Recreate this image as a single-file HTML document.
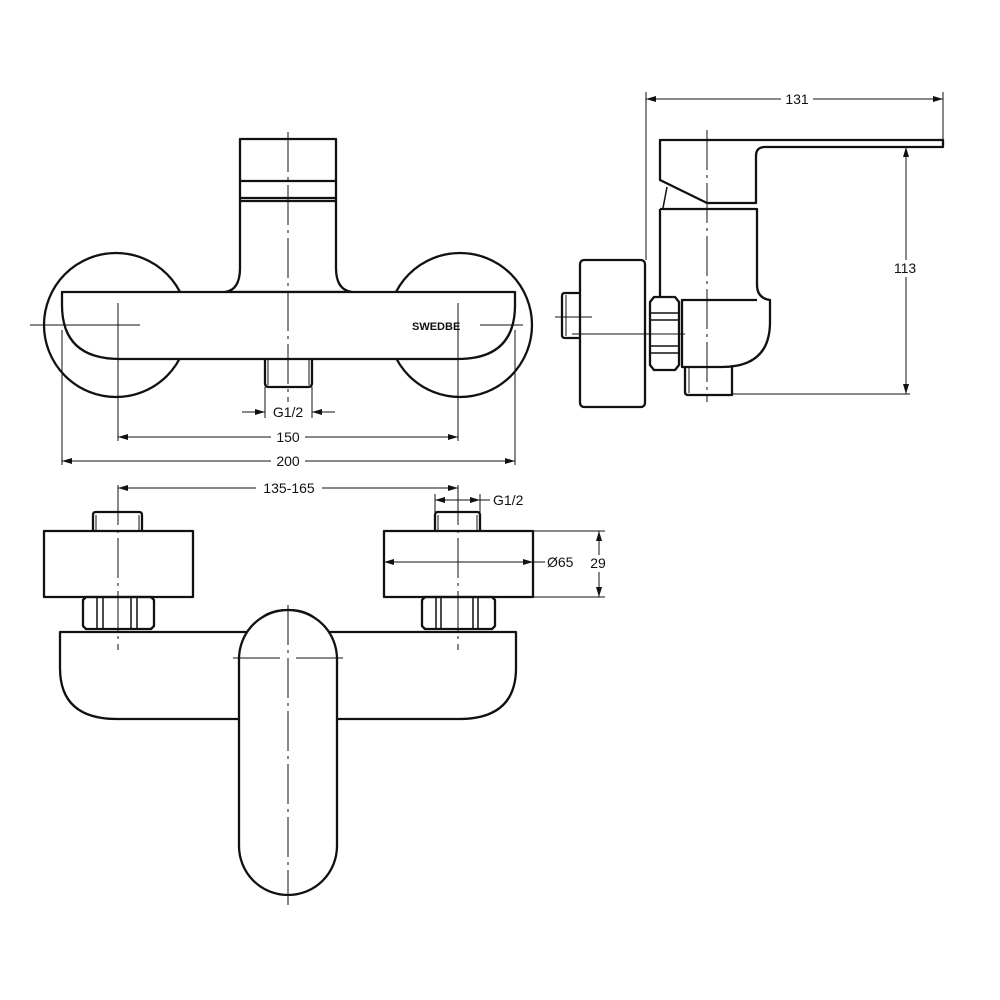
<!DOCTYPE html>
<html><head><meta charset="utf-8"><style>
html,body{margin:0;padding:0;background:#fff}
svg{display:block}
text{font-family:"Liberation Sans",sans-serif;font-size:14px;fill:#111}
</style></head><body>
<svg width="1000" height="1000" viewBox="0 0 1000 1000" xmlns="http://www.w3.org/2000/svg">
<defs>
<marker id="a" viewBox="0 0 10 6" refX="10" refY="3" markerWidth="10" markerHeight="6" orient="auto-start-reverse" markerUnits="userSpaceOnUse"><path d="M0,0 L10,3 L0,6 Z" fill="#111"/></marker>
</defs>
<g fill="none" stroke="#111" stroke-width="2.3" stroke-linejoin="round">
<!-- TOP VIEW -->
<circle cx="116" cy="325" r="72"/>
<circle cx="460" cy="325" r="72"/>
<path d="M240,139 H336 V268 Q336,290 352,292 H225 Q240,290 240,268 Z" fill="#fff"/>
<line x1="240" y1="181" x2="336" y2="181"/>
<line x1="240" y1="198" x2="336" y2="198"/>
<line x1="240" y1="201" x2="336" y2="201"/>
<path d="M62,292 H515 V305 Q515,359 458,359 H120 Q62,359 62,305 Z" fill="#fff"/>
<path d="M265,359 V383 Q265,387 269,387 H308 Q312,387 312,383 V359"/>
<line x1="268" y1="359" x2="268" y2="385" stroke-width="1"/>
<line x1="309" y1="359" x2="309" y2="385" stroke-width="1"/>
<!-- SIDE VIEW -->
<path d="M660,140 H943 V147 H765 Q756,147 756,156 V203 H707 L660,180 Z"/>
<path d="M667,187 L663,208" stroke-width="1.5"/>
<path d="M660,209 H757 V285 Q757,298 770,300 V322 Q770,367 722,367 H682 V300 H757"/>
<line x1="660" y1="209" x2="660" y2="297"/>
<path d="M654,297 H675 L679,302 V365 L675,370 H654 L650,365 V302 Z"/>
<line x1="650" y1="313" x2="679" y2="313" stroke-width="1.5"/>
<line x1="650" y1="320" x2="679" y2="320" stroke-width="1.5"/>
<line x1="650" y1="346" x2="679" y2="346" stroke-width="1.5"/>
<line x1="650" y1="353" x2="679" y2="353" stroke-width="1.5"/>
<path d="M685,367 V392 Q685,395 688,395 H732 V367"/>
<line x1="689" y1="367" x2="689" y2="393" stroke-width="1"/>
<rect x="580" y="260" width="65" height="147" rx="4"/>
<path d="M580,293 H565 Q562,293 562,296 V335 Q562,338 565,338 H580"/>
<line x1="566" y1="295" x2="566" y2="336" stroke-width="1"/>
<!-- BOTTOM VIEW -->
<rect x="44" y="531" width="149" height="66"/>
<path d="M93,531 V515 Q93,512 96,512 H139 Q142,512 142,515 V531"/>
<line x1="96" y1="515" x2="96" y2="531" stroke-width="1"/>
<line x1="139" y1="515" x2="139" y2="531" stroke-width="1"/>
<path d="M86,597 H151 L154,600 V626 L151,629 H86 L83,626 V600 Z"/>
<line x1="97" y1="597" x2="97" y2="629" stroke-width="1.5"/>
<line x1="103" y1="597" x2="103" y2="629" stroke-width="1.5"/>
<line x1="131" y1="597" x2="131" y2="629" stroke-width="1.5"/>
<line x1="137" y1="597" x2="137" y2="629" stroke-width="1.5"/>
<rect x="384" y="531" width="149" height="66"/>
<path d="M435,531 V515 Q435,512 438,512 H477 Q480,512 480,515 V531"/>
<line x1="438" y1="515" x2="438" y2="531" stroke-width="1"/>
<line x1="477" y1="515" x2="477" y2="531" stroke-width="1"/>
<path d="M425,597 H492 L495,600 V626 L492,629 H425 L422,626 V600 Z"/>
<line x1="436" y1="597" x2="436" y2="629" stroke-width="1.5"/>
<line x1="441" y1="597" x2="441" y2="629" stroke-width="1.5"/>
<line x1="473" y1="597" x2="473" y2="629" stroke-width="1.5"/>
<line x1="478" y1="597" x2="478" y2="629" stroke-width="1.5"/>
<path d="M60,632 H516 V668 Q516,719 459,719 H117 Q60,719 60,668 Z" fill="#fff"/>
<path d="M252,632 Q260,610 288,610 Q316,610 324,632" />
<rect x="239" y="610" width="98" height="285" rx="49" fill="#fff"/>
</g>
<!-- centerlines -->
<g stroke="#111" stroke-width="1" fill="none" stroke-dasharray="40,5,3,5">
<line x1="288" y1="132" x2="288" y2="402"/>
<line x1="707" y1="130" x2="707" y2="402"/>
<line x1="288" y1="605" x2="288" y2="905"/>
<line x1="118" y1="485" x2="118" y2="650"/>
<line x1="458" y1="485" x2="458" y2="650"/>
</g>
<g stroke="#111" stroke-width="1" fill="none">
<line x1="30" y1="325" x2="140" y2="325"/>
<line x1="480" y1="325" x2="523" y2="325"/>
<line x1="118" y1="303" x2="118" y2="441"/>
<line x1="458" y1="303" x2="458" y2="441"/>
<line x1="62" y1="330" x2="62" y2="465"/>
<line x1="515" y1="330" x2="515" y2="465"/>
<line x1="265" y1="387" x2="265" y2="418"/>
<line x1="312" y1="387" x2="312" y2="418"/>
<line x1="242" y1="412" x2="265" y2="412" marker-end="url(#a)"/>
<line x1="335" y1="412" x2="312" y2="412" marker-end="url(#a)"/>
<line x1="118" y1="437" x2="458" y2="437" marker-start="url(#a)" marker-end="url(#a)"/>
<line x1="62" y1="461" x2="515" y2="461" marker-start="url(#a)" marker-end="url(#a)"/>
<line x1="555" y1="317" x2="592" y2="317"/>
<line x1="572" y1="334" x2="685" y2="334"/>
<line x1="646" y1="92" x2="646" y2="260"/>
<line x1="943" y1="92" x2="943" y2="140"/>
<line x1="646" y1="99" x2="943" y2="99" marker-start="url(#a)" marker-end="url(#a)"/>
<line x1="732" y1="394" x2="910" y2="394"/>
<line x1="906" y1="147" x2="906" y2="394" marker-start="url(#a)" marker-end="url(#a)"/>
<line x1="118" y1="488" x2="458" y2="488" marker-start="url(#a)" marker-end="url(#a)"/>
<line x1="435" y1="494" x2="435" y2="512"/>
<line x1="480" y1="494" x2="480" y2="512"/>
<line x1="435" y1="500" x2="480" y2="500" marker-start="url(#a)" marker-end="url(#a)"/>
<line x1="480" y1="500" x2="490" y2="500"/>
<line x1="384" y1="562" x2="533" y2="562" marker-start="url(#a)" marker-end="url(#a)"/>
<line x1="533" y1="562" x2="545" y2="562"/>
<line x1="533" y1="531" x2="605" y2="531"/>
<line x1="533" y1="597" x2="605" y2="597"/>
<line x1="599" y1="531" x2="599" y2="597" marker-start="url(#a)" marker-end="url(#a)"/>
<line x1="233" y1="658" x2="280" y2="658"/>
<line x1="296" y1="658" x2="343" y2="658"/>
</g>
<!-- labels -->
<g text-anchor="middle">
<rect x="269" y="404" width="39" height="16" fill="#fff"/><text x="288" y="417">G1/2</text>
<rect x="271" y="429" width="34" height="16" fill="#fff"/><text x="288" y="442">150</text>
<rect x="271" y="453" width="34" height="16" fill="#fff"/><text x="288" y="466">200</text>
<rect x="781" y="91" width="32" height="16" fill="#fff"/><text x="797" y="104">131</text>
<rect x="894" y="260" width="26" height="17" fill="#fff"/><text x="905" y="273">113</text>
<rect x="256" y="480" width="66" height="16" fill="#fff"/><text x="289" y="493">135-165</text>
<rect x="589" y="555" width="20" height="17" fill="#fff"/><text x="598" y="568">29</text>
</g>
<text x="493" y="505">G1/2</text>
<text x="547" y="567">Ø65</text>
<text x="412" y="330" style="font-weight:bold;font-size:11px">SWEDBE</text>
</svg>
</body></html>
